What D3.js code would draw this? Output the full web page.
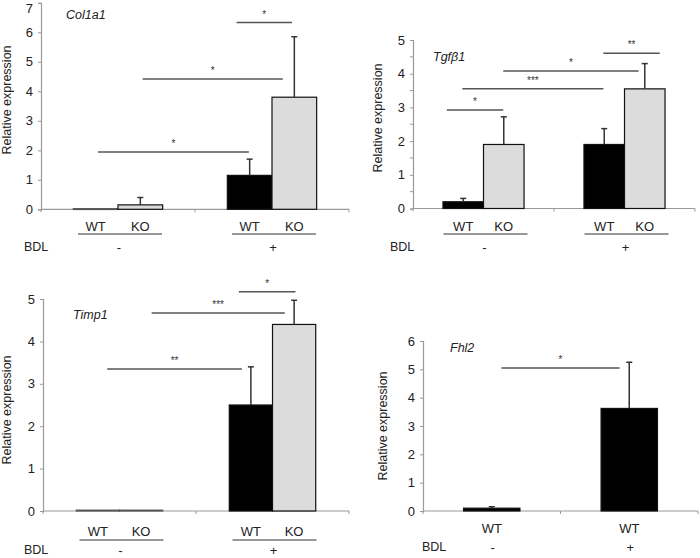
<!DOCTYPE html>
<html>
<head>
<meta charset="utf-8">
<script src="https://cdn.jsdelivr.net/npm/d3@7"></script>
<style>
  html, body { margin: 0; padding: 0; background: #fff; }
  svg { display: block; font-family: "Liberation Sans", Arial, sans-serif; }
</style>
</head>
<body>
<svg id="chart" width="700" height="558"></svg>
<script>
// ---------- DATA ----------
const bdlGroups = ["-", "+"];
const genotypes = ["WT", "KO"];

const col1a1Mean = [0.02, 0.15, 1.15, 3.8];
const col1a1Err  = [0, 0.25, 0.55, 2.05];
const col1a1Ticks = [0, 1, 2, 3, 4, 5, 6, 7];
const col1a1Sig = [
  { label: "*", y: 6.33, from: 1.27, to: 1.63 },
  { label: "*", y: 4.42, from: 0.66, to: 1.57 },
  { label: "*", y: 1.94, from: 0.37, to: 1.35 }
];

const tgfb1Mean = [0.2, 1.9, 1.9, 3.55];
const tgfb1Err  = [0.1, 0.82, 0.47, 0.75];
const tgfb1Ticks = [0, 1, 2, 3, 4, 5];
const tgfb1Sig = [
  { label: "**", y: 4.61, from: 1.35, to: 1.75 },
  { label: "*", y: 4.08, from: 0.64, to: 1.60 },
  { label: "***", y: 3.55, from: 0.35, to: 1.35 },
  { label: "*", y: 2.92, from: 0.24, to: 0.64 }
];

const timp1Mean = [0.02, 0.02, 2.5, 4.4];
const timp1Err  = [0, 0, 0.9, 0.57];
const timp1Ticks = [0, 1, 2, 3, 4, 5];
const timp1Sig = [
  { label: "*", y: 5.17, from: 1.28, to: 1.65 },
  { label: "***", y: 4.67, from: 0.71, to: 1.58 },
  { label: "**", y: 3.35, from: 0.42, to: 1.30 }
];

const fhl2Genotypes = ["WT"];
const fhl2Mean = [0.1, 3.62];
const fhl2Err  = [0.05, 1.63];
const fhl2Ticks = [0, 1, 2, 3, 4, 5, 6];
const fhl2Sig = [
  { label: "*", y: 5.05, from: 0.57, to: 1.43 }
];

// ---------- LAYOUT ----------
const svg = d3.select("#chart");
const axisColor = "#9a9a9a";
const textColor = "#222";

function panel(opts) {
  const g = svg.append("g");
  const x = d3.scaleBand().domain(bdlGroups).range([opts.x0, opts.x1]).paddingInner(0).paddingOuter(0);
  const xl = d3.scaleLinear().domain([0, bdlGroups.length]).range([opts.x0, opts.x1]);
  const y = d3.scaleLinear().domain([0, opts.yMax]).range([opts.yBase, opts.yTop]);
  const gw = x.bandwidth() * opts.groupFrac;
  const inner = d3.scaleBand().domain(opts.genos).range([-gw / 2, gw / 2]).paddingInner(0);

  // y axis
  const yAxis = d3.axisLeft(y).tickValues(opts.ticks).tickSize(3).tickPadding(5).tickFormat(d3.format("d"));
  const ya = g.append("g").attr("transform", `translate(${opts.x0},0)`).call(yAxis);
  ya.select(".domain").attr("stroke", axisColor).attr("stroke-width", 1.2);
  ya.selectAll(".tick line").attr("stroke", axisColor);
  ya.selectAll(".tick text").attr("fill", textColor).style("font-size", "13px")
    .attr("dy", d => y(d) < 8 ? `${0.32 + (8 - y(d)) / 13}em` : "0.32em");
  if (opts.minor) {
    const minorTicks = d3.range(0.5, opts.yMax, 1);
    g.append("g").selectAll("line").data(minorTicks).join("line")
      .attr("x1", opts.x0 - 3).attr("x2", opts.x0)
      .attr("y1", d => y(d)).attr("y2", d => y(d))
      .attr("stroke", axisColor);
  }

  // x axis
  g.append("line").attr("x1", opts.x0).attr("x2", opts.x1)
    .attr("y1", opts.yBase).attr("y2", opts.yBase)
    .attr("stroke", axisColor).attr("stroke-width", 1.2);
  g.append("g").selectAll("line").data(d3.range(0, bdlGroups.length + 1)).join("line")
    .attr("x1", d => xl(d)).attr("x2", d => xl(d))
    .attr("y1", opts.yBase).attr("y2", opts.yBase + 3)
    .attr("stroke", axisColor);

  // bars
  const rows = [];
  bdlGroups.forEach((b, bi) => {
    opts.genos.forEach((gn, gi) => {
      const i = bi * opts.genos.length + gi;
      rows.push({ b, gn, mean: opts.mean[i], err: opts.err[i] });
    });
  });
  const cx = d => x(d.b) + x.bandwidth() / 2;
  const bx = d => cx(d) + inner(d.gn);

  const bars = g.append("g");
  bars.selectAll("rect").data(rows).join("rect")
    .attr("x", d => bx(d))
    .attr("width", inner.bandwidth())
    .attr("y", d => y(d.mean))
    .attr("height", d => Math.max(0.8, opts.yBase - y(d.mean)))
    .attr("fill", d => d.gn === "KO" ? "#dcdcdc" : "#000")
    .attr("stroke", d => d.mean < 0.05 ? "#555" : "#111")
    .attr("stroke-width", 1.2);

  // error bars
  const eb = g.append("g").attr("stroke", "#333").attr("stroke-width", 1.5);
  const withErr = rows.filter(d => d.err > 0);
  eb.selectAll("line.v").data(withErr).join("line").attr("class", "v")
    .attr("x1", d => bx(d) + inner.bandwidth() / 2).attr("x2", d => bx(d) + inner.bandwidth() / 2)
    .attr("y1", d => y(d.mean)).attr("y2", d => y(d.mean + d.err));
  eb.selectAll("line.c").data(withErr).join("line").attr("class", "c")
    .attr("x1", d => bx(d) + inner.bandwidth() / 2 - 3).attr("x2", d => bx(d) + inner.bandwidth() / 2 + 3)
    .attr("y1", d => y(d.mean + d.err)).attr("y2", d => y(d.mean + d.err));

  // significance brackets
  const sg = g.append("g");
  sg.selectAll("line").data(opts.sig).join("line")
    .attr("x1", d => xl(d.from)).attr("x2", d => xl(d.to))
    .attr("y1", d => y(d.y)).attr("y2", d => y(d.y))
    .attr("stroke", "#555").attr("stroke-width", 1.5);
  sg.selectAll("text").data(opts.sig).join("text")
    .attr("x", d => xl((d.from + d.to) / 2))
    .attr("y", d => y(d.y) - 5)
    .attr("text-anchor", "middle")
    .attr("fill", "#333")
    .style("font-size", "10px")
    .text(d => d.label);

  // genotype labels
  g.append("g").selectAll("text").data(rows).join("text")
    .attr("x", d => bx(d) + inner.bandwidth() / 2)
    .attr("y", opts.labY)
    .attr("text-anchor", "middle").attr("dominant-baseline", "central")
    .attr("fill", textColor).style("font-size", "13px")
    .text(d => d.gn);

  // underlines
  if (opts.underline) {
    g.append("g").selectAll("line").data(bdlGroups).join("line")
      .attr("x1", d => x(d) + x.bandwidth() / 2 - 40)
      .attr("x2", d => x(d) + x.bandwidth() / 2 + 44)
      .attr("y1", opts.underY).attr("y2", opts.underY)
      .attr("stroke", "#333").attr("stroke-width", 1.2);
  }

  // BDL row
  g.append("text").attr("x", opts.bdlX).attr("y", opts.bdlY)
    .attr("dominant-baseline", "central").attr("fill", textColor)
    .style("font-size", "12.5px").text("BDL");
  g.append("g").selectAll("text").data(bdlGroups).join("text")
    .attr("x", d => x(d) + x.bandwidth() / 2 + 1)
    .attr("y", opts.bdlY)
    .attr("text-anchor", "middle").attr("dominant-baseline", "central")
    .attr("fill", textColor).style("font-size", "13px")
    .text(d => d);

  // y label
  g.append("text")
    .attr("transform", `translate(${opts.ylabX},${opts.ylabY}) rotate(-90)`)
    .attr("text-anchor", "middle").attr("dominant-baseline", "central")
    .attr("fill", textColor).style("font-size", "12.5px")
    .text("Relative expression");

  // title
  g.append("text").attr("x", opts.titleX).attr("y", opts.titleY)
    .attr("dominant-baseline", "central")
    .attr("fill", textColor).style("font-size", "12.5px").style("font-style", "italic")
    .text(opts.title);
}

panel({ title: "Col1a1", genos: genotypes, mean: col1a1Mean, err: col1a1Err, ticks: col1a1Ticks, sig: col1a1Sig,
  x0: 41, x1: 349, yBase: 209.3, yTop: 2.8, yMax: 7, groupFrac: 0.58,
  labY: 226, underline: true, underY: 234, bdlX: 24, bdlY: 247,
  ylabX: 7, ylabY: 100, titleX: 66, titleY: 15 });

panel({ title: "Tgfβ1", genos: genotypes, mean: tgfb1Mean, err: tgfb1Err, ticks: tgfb1Ticks, sig: tgfb1Sig,
  x0: 413, x1: 695, yBase: 208.5, yTop: 40, yMax: 5, groupFrac: 0.575, minor: true,
  labY: 226, underline: true, underY: 234, bdlX: 390, bdlY: 247,
  ylabX: 378, ylabY: 118, titleX: 433, titleY: 57 });

panel({ title: "Timp1", genos: genotypes, mean: timp1Mean, err: timp1Err, ticks: timp1Ticks, sig: timp1Sig,
  x0: 43, x1: 349, yBase: 511, yTop: 299, yMax: 5, groupFrac: 0.565,
  labY: 531, underline: true, underY: 540, bdlX: 24, bdlY: 550,
  ylabX: 7, ylabY: 410, titleX: 73, titleY: 315 });

panel({ title: "Fhl2", genos: fhl2Genotypes, mean: fhl2Mean, err: fhl2Err, ticks: fhl2Ticks, sig: fhl2Sig,
  x0: 423, x1: 698, yBase: 511, yTop: 341, yMax: 6, groupFrac: 0.41,
  labY: 528, underline: false, bdlX: 422, bdlY: 547,
  ylabX: 383, ylabY: 426, titleX: 450, titleY: 348 });
</script>
</body>
</html>
